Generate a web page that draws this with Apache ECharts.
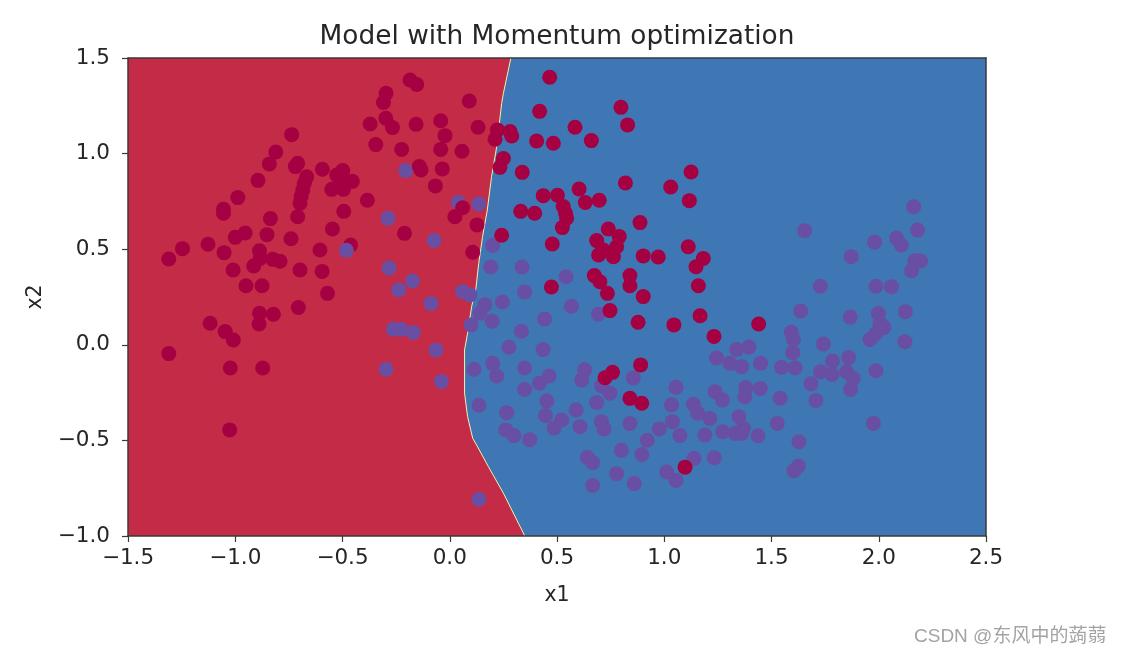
<!DOCTYPE html>
<html>
<head>
<meta charset="utf-8">
<style>
  html, body { margin: 0; padding: 0; background: #fff; }
  #chart { width: 1121px; height: 654px; }
</style>
<script src="https://cdn.jsdelivr.net/npm/echarts@6/dist/echarts.min.js"></script>
</head>
<body>
<div id="chart"></div>
<script>
// decision boundary, top to bottom
var boundary = [
  [0.285, 1.5], [0.25, 1.315], [0.242, 1.263], [0.219, 1.036], [0.195, 0.88], [0.175, 0.705],
  [0.153, 0.566], [0.135, 0.426], [0.122, 0.295], [0.102, 0.2], [0.083, 0.06], [0.069, -0.027],
  [0.069, -0.253], [0.083, -0.375], [0.107, -0.489], [0.125, -0.524], [0.18, -0.637],
  [0.25, -0.776], [0.35, -1.0]
];

// class 0 drawn under the class 1 points
var class0Under = [[-0.462, 0.522]];

// class 1 points (purple)
var class1 = [
  [-0.205, 0.911], [-0.288, 0.662], [-0.482, 0.494], [-0.283, 0.402], [-0.174, 0.334], [-0.238, 0.287],
  [-0.263, 0.081], [-0.227, 0.081], [-0.17, 0.064], [-0.297, -0.128], [0.04, 0.744], [0.135, 0.737],
  [-0.073, 0.546], [0.2, 0.519], [0.191, 0.407], [0.337, 0.407], [0.542, 0.356], [0.06, 0.278],
  [0.094, 0.261], [0.349, 0.276], [-0.087, 0.216], [-0.064, -0.027], [-0.039, -0.192], [0.136, -0.808],
  [0.164, 0.209], [0.141, 0.165], [0.099, 0.104], [0.198, 0.123], [0.245, 0.224], [0.567, 0.202],
  [0.693, 0.16], [0.442, 0.135], [0.334, 0.071], [0.276, -0.013], [0.435, -0.025], [0.113, -0.128],
  [0.2, -0.097], [0.219, -0.163], [0.349, -0.121], [0.463, -0.163], [0.418, -0.201], [0.349, -0.234],
  [0.629, -0.131], [0.615, -0.184], [0.856, -0.173], [0.708, -0.215], [0.747, -0.253], [0.685, -0.302],
  [1.055, -0.222], [1.034, -0.314], [1.136, -0.311], [1.156, -0.358], [1.038, -0.402], [0.977, -0.44],
  [1.073, -0.475], [0.921, -0.499], [0.84, -0.412], [0.707, -0.402], [0.719, -0.44], [0.607, -0.428],
  [0.589, -0.341], [0.453, -0.294], [0.446, -0.37], [0.522, -0.393], [0.486, -0.435], [0.136, -0.316],
  [0.265, -0.355], [0.261, -0.445], [0.299, -0.475], [0.373, -0.496], [0.8, -0.552], [0.896, -0.574],
  [0.641, -0.588], [0.666, -0.616], [0.778, -0.674], [1.011, -0.665], [1.055, -0.71], [0.86, -0.726],
  [0.666, -0.736], [2.163, 0.722], [2.181, 0.6], [1.981, 0.537], [2.083, 0.558], [2.105, 0.522],
  [1.872, 0.461], [1.655, 0.597], [2.195, 0.438], [2.169, 0.44], [2.153, 0.387], [1.987, 0.306],
  [2.059, 0.304], [1.728, 0.306], [1.636, 0.177], [1.867, 0.145], [2.124, 0.173], [1.998, 0.164],
  [2.006, 0.112], [2.024, 0.091], [1.987, 0.06], [1.959, 0.028], [2.122, 0.016], [1.592, 0.065],
  [1.602, 0.029], [1.599, -0.041], [1.742, 0.004], [1.86, -0.066], [1.784, -0.085], [1.729, -0.141],
  [1.782, -0.155], [1.85, -0.141], [1.881, -0.176], [1.869, -0.233], [1.987, -0.136], [1.684, -0.204],
  [1.707, -0.291], [1.54, -0.279], [1.449, -0.097], [1.547, -0.118], [1.61, -0.12], [1.395, -0.012],
  [1.338, -0.024], [1.244, -0.069], [1.306, -0.097], [1.361, -0.115], [1.38, -0.223], [1.376, -0.272],
  [1.448, -0.228], [1.237, -0.245], [1.271, -0.289], [1.213, -0.385], [1.348, -0.376], [1.527, -0.411],
  [1.975, -0.411], [1.369, -0.437], [1.19, -0.472], [1.272, -0.455], [1.33, -0.463], [1.361, -0.463],
  [1.437, -0.476], [1.628, -0.507], [1.139, -0.594], [1.233, -0.591], [1.625, -0.634], [1.605, -0.659]
];

// class 0 points (dark red)
var class0 = [
  [-1.31, 0.449], [-1.246, 0.503], [-1.127, 0.526], [-1.052, 0.482], [-1.01, 0.391], [-0.95, 0.309],
  [-0.875, 0.309], [-0.914, 0.412], [-0.887, 0.492], [-0.884, 0.452], [-0.825, 0.447], [-0.791, 0.437],
  [-1.0, 0.562], [-0.954, 0.585], [-0.852, 0.576], [-0.836, 0.66], [-0.74, 0.555], [-0.698, 0.391],
  [-0.595, 0.384], [-0.605, 0.496], [-0.547, 0.606], [-0.494, 0.698], [-0.57, 0.269], [-0.709, 0.67],
  [-1.055, 0.709], [-1.055, 0.688], [-0.988, 0.77], [-0.894, 0.86], [-0.841, 0.946], [-0.811, 1.008],
  [-0.737, 1.099], [-0.72, 0.932], [-0.709, 0.949], [-0.594, 0.918], [-0.667, 0.879], [-0.678, 0.845],
  [-0.685, 0.81], [-0.693, 0.775], [-0.698, 0.74], [-0.527, 0.888], [-0.499, 0.911], [-0.511, 0.853],
  [-0.454, 0.855], [-0.55, 0.813], [-0.496, 0.813], [-0.384, 0.756], [-0.211, 0.583], [-0.224, 1.022],
  [-0.345, 1.047], [-0.371, 1.155], [-0.298, 1.185], [-0.267, 1.136], [-0.309, 1.267], [-0.297, 1.315],
  [-0.185, 1.385], [-0.154, 1.362], [-0.157, 1.153], [-0.706, 0.195], [-0.887, 0.165], [-0.822, 0.16],
  [-0.889, 0.109], [-1.117, 0.113], [-1.047, 0.069], [-1.009, 0.025], [-1.31, -0.046], [-1.023, -0.121],
  [-0.872, -0.121], [-1.026, -0.445], [0.091, 1.275], [0.466, 1.399], [0.419, 1.221], [0.798, 1.242],
  [0.829, 1.15], [0.584, 1.138], [0.66, 1.068], [0.405, 1.066], [0.483, 1.054], [-0.042, 1.172],
  [-0.022, 1.094], [0.132, 1.138], [-0.042, 1.022], [0.057, 1.012], [0.222, 1.124], [0.211, 1.075],
  [0.281, 1.115], [0.289, 1.092], [0.25, 0.974], [0.234, 0.928], [0.338, 0.902], [-0.142, 0.932],
  [-0.134, 0.914], [-0.035, 0.92], [-0.067, 0.831], [0.819, 0.846], [1.125, 0.904], [1.03, 0.825],
  [1.117, 0.754], [0.603, 0.815], [0.697, 0.756], [0.632, 0.744], [0.436, 0.78], [0.502, 0.782],
  [0.529, 0.723], [0.54, 0.688], [0.545, 0.662], [0.525, 0.613], [0.331, 0.698], [0.396, 0.688],
  [0.06, 0.717], [0.024, 0.67], [0.127, 0.627], [0.242, 0.573], [0.107, 0.484], [0.478, 0.527],
  [0.887, 0.639], [0.739, 0.606], [0.79, 0.566], [0.685, 0.545], [0.778, 0.513], [0.716, 0.496],
  [0.694, 0.47], [0.763, 0.461], [0.902, 0.465], [0.972, 0.459], [1.112, 0.513], [0.674, 0.362],
  [0.7, 0.33], [0.84, 0.362], [0.84, 0.309], [0.474, 0.302], [0.735, 0.269], [0.902, 0.252],
  [0.747, 0.179], [0.878, 0.118], [1.045, 0.104], [0.89, -0.105], [0.759, -0.144], [0.724, -0.172],
  [0.84, -0.28], [0.895, -0.306], [1.097, -0.64], [1.182, 0.452], [1.148, 0.408], [1.159, 0.309],
  [1.167, 0.152], [1.232, 0.044], [1.44, 0.109]
];

var FONT = "DejaVu Sans";
var TEXT = "#262626";

function tickLabel(v) {
  return v.toFixed(1).replace("-", "\u2212");
}

function axisBase(extra) {
  var o = {
    type: "value", interval: 0.5, z: 5,
    splitLine: { show: false },
    axisLine: { show: true, onZero: false, lineStyle: { color: "#3a3a3a", width: 1.5 } },
    axisTick: { show: true, length: 6, lineStyle: { color: "#3a3a3a", width: 1.2 } },
    axisLabel: { formatter: tickLabel, fontFamily: FONT, fontSize: 21.5, color: TEXT, margin: 11, showMinLabel: true, showMaxLabel: true }
  };
  for (var k in extra) o[k] = extra[k];
  return o;
}

// the red side: boundary closed along the left edge of the plot
function renderRegion(params, api) {
  var pts = boundary.map(function (p) { return api.coord(p); });
  pts.push(api.coord([-1.5, -1.0]));
  pts.push(api.coord([-1.5, 1.5]));
  return { type: "polygon", shape: { points: pts }, style: { fill: "#C42B47" }, silent: true };
}

var chart = echarts.init(document.getElementById("chart"));
chart.setOption({
  animation: false,
  title: [
    { text: "Model with Momentum optimization", left: 552, top: 19, textAlign: "center",
      textStyle: { fontFamily: FONT, fontSize: 26.4, fontWeight: "normal", color: TEXT } },
    { text: "CSDN @\u4e1c\u98ce\u4e2d\u7684\u849f\u84bb", left: 909, top: 622,
      textStyle: { fontFamily: "Liberation Sans, Noto Sans CJK SC", fontSize: 19, fontWeight: "normal", color: "#a3a3a3" } }
  ],
  grid: { left: 128, right: 135, top: 58, bottom: 118, show: true, backgroundColor: "#3F76B4", borderWidth: 0 },
  xAxis: [
    axisBase({ min: -1.5, max: 2.5, name: "x1", nameLocation: "middle", nameGap: 49,
               nameTextStyle: { fontFamily: FONT, fontSize: 20.5, color: TEXT } }),
    axisBase({ min: -1.5, max: 2.5, position: "top", axisTick: { show: false }, axisLabel: { show: false } })
  ],
  yAxis: [
    axisBase({ min: -1.0, max: 1.5, name: "x2", nameLocation: "middle", nameGap: 82,
               axisLabel: { formatter: tickLabel, fontFamily: FONT, fontSize: 21.5, color: TEXT, margin: 18, showMinLabel: true, showMaxLabel: true },
               nameTextStyle: { fontFamily: FONT, fontSize: 20.5, color: TEXT } }),
    axisBase({ min: -1.0, max: 1.5, position: "right", axisTick: { show: false }, axisLabel: { show: false } })
  ],
  series: [
    { type: "custom", renderItem: renderRegion, data: [[0, 0]], z: 1, silent: true, clip: true },
    { type: "line", data: boundary, showSymbol: false, z: 2, silent: true,
      lineStyle: { color: "#F4F0B0", width: 1 } },
    { type: "scatter", data: class0Under, symbolSize: 15, z: 3, itemStyle: { color: "#A50042", opacity: 1 } },
    { type: "scatter", data: class1, symbolSize: 15, z: 3, itemStyle: { color: "#694FA3", opacity: 1 } },
    { type: "scatter", data: class0, symbolSize: 15, z: 4, itemStyle: { color: "#A50042", opacity: 1 } }
  ]
});
</script>
</body>
</html>
